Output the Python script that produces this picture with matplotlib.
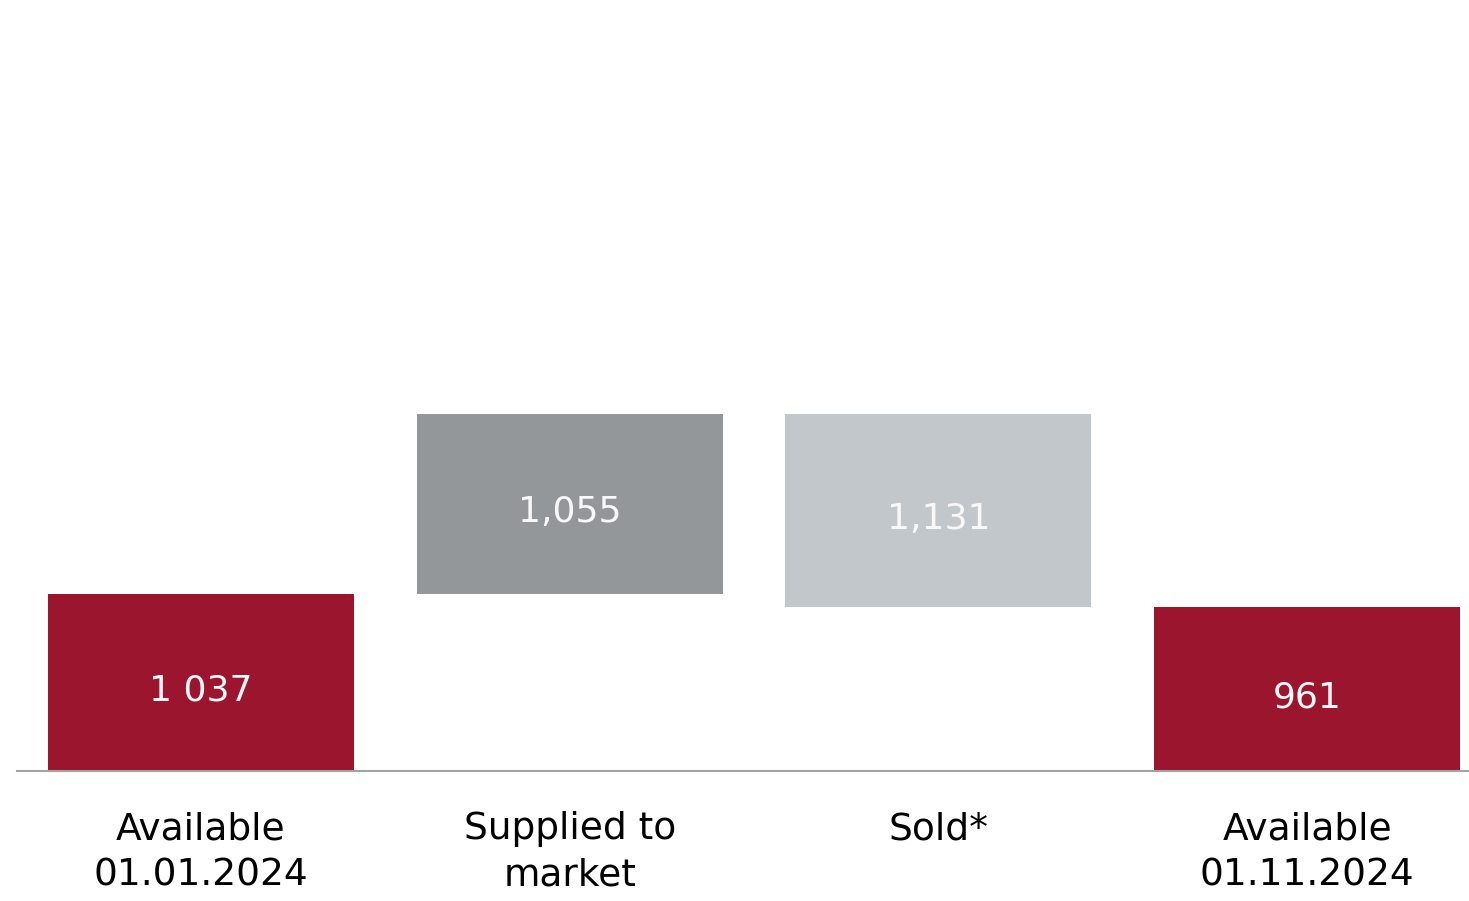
import matplotlib
matplotlib.use("Agg")
import matplotlib.pyplot as plt

# waterfall: opening stock, inflow, outflow, closing stock
categories = ["Available\n01.01.2024", "Supplied to\nmarket", "Sold*", "Available\n01.11.2024"]
values = [1037, 1055, 1131, 961]
value_labels = ["1 037", "1,055", "1,131", "961"]
kinds = ["total", "up", "down", "total"]
colors = ["#9B152E", "#939799", "#C2C7CB", "#9B152E"]

bottoms, running = [], 0
for v, k in zip(values, kinds):
    if k == "total":
        bottoms.append(0); running = v
    elif k == "up":
        bottoms.append(running); running += v
    else:
        running -= v; bottoms.append(running)

plt.rcParams["font.family"] = ["DejaVu Sans"]
fig = plt.figure(figsize=(14.69, 9.01), dpi=100)
ax = fig.add_axes([17 / 1469, 1 - 771 / 901, 1 - 17 / 1469, 771 / 901])

x = range(len(values))
ax.bar(x, values, 0.83, bottom=bottoms, color=colors, zorder=1)
for i, (v, b, s) in enumerate(zip(values, bottoms, value_labels)):
    ax.annotate(s, (i, b + v / 2), xytext=(0, -13.3), textcoords="offset points",
                ha="center", va="baseline", color="#F8F8F8", fontsize=26, zorder=3)

ax.set_xlim(-0.499, 3.439)
ax.set_ylim(0, 4517)
ax.set_yticks([])
ax.set_xticks(list(x))
ax.set_xticklabels(categories, fontsize=27, linespacing=1.38)
ax.tick_params(axis="x", length=0, pad=29)
for side in ["top", "left", "right"]:
    ax.spines[side].set_visible(False)
ax.spines["bottom"].set_color("#A0A2A4")
ax.spines["bottom"].set_linewidth(1.5)
ax.spines["bottom"].set_zorder(2)

fig.savefig("out.png", dpi=100)
